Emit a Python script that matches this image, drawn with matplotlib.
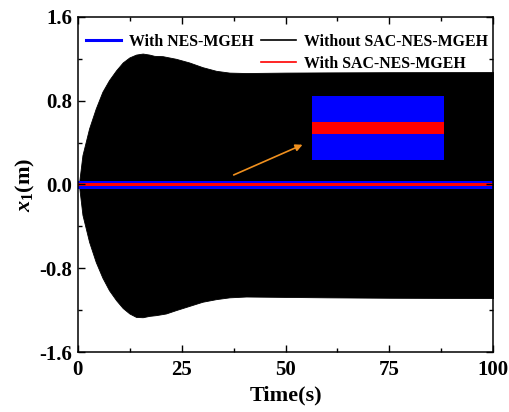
import matplotlib
matplotlib.use('Agg')
import matplotlib.pyplot as plt
from matplotlib.lines import Line2D

plt.rcParams['font.family'] = ['Liberation Serif', 'DejaVu Serif']
plt.rcParams['font.weight'] = 'bold'
plt.rcParams['mathtext.fontset'] = 'custom'
plt.rcParams['mathtext.rm'] = 'Liberation Serif:bold'
plt.rcParams['mathtext.it'] = 'Liberation Serif:italic:bold'
plt.rcParams['mathtext.bf'] = 'Liberation Serif:bold'

# envelope of the response without SAC-NES-MGEH
t_up = [0, 0.3, 1.1, 2.7, 4.3, 5.9, 7.5, 9.2, 10.8, 12.4, 14.0, 15.6, 17.2, 18.4, 20.4,
        23.6, 26.8, 30.0, 33.3, 36.5, 40.5, 50, 60, 75, 100]
upper_env = [0.0, 0.02, 0.28, 0.535, 0.725, 0.885, 0.996, 1.09, 1.165, 1.213, 1.24, 1.25,
             1.24, 1.228, 1.225, 1.20, 1.165, 1.12, 1.085, 1.068, 1.064, 1.068, 1.07, 1.072, 1.073]
t_low = [0, 0.3, 1.1, 2.7, 4.3, 5.9, 7.5, 9.2, 10.8, 12.4, 14.0, 15.6, 17.2, 18.8, 21.2,
         23.6, 26.8, 30.0, 33.3, 36.5, 40.5, 50, 60, 75, 100]
lower_env = [0.0, -0.02, -0.29, -0.548, -0.74, -0.89, -1.01, -1.105, -1.18, -1.232, -1.265, -1.268,
             -1.255, -1.248, -1.232, -1.20, -1.16, -1.12, -1.095, -1.078, -1.07, -1.074, -1.078, -1.082, -1.085]

# with NES-MGEH / with SAC-NES-MGEH (thin bands around zero)
t_small = [0, 100]
blue_upper = [0.03, 0.03]
blue_lower = [-0.045, -0.045]
red_upper = [0.012, 0.012]
red_lower = [-0.012, -0.012]

# zoomed inset values
inset_t = [0, 1]
inset_blue = [0.035, 0.035]
inset_red = [0.0068, 0.0068]

xticks = [0, 25, 50, 75, 100]
yticks = [-1.6, -0.8, 0.0, 0.8, 1.6]

fig = plt.figure(figsize=(5.09, 4.12), dpi=100)
ax = fig.add_axes([0.153, 0.1456, 0.816, 0.8134])

ax.fill_between(t_up, upper_env, 0, color='black', lw=0.6, edgecolor='black')
ax.fill_between(t_low, lower_env, 0, color='black', lw=0.6, edgecolor='black')
ax.fill_between(t_small, blue_lower, blue_upper, color='#0000ff', lw=0)
ax.fill_between(t_small, red_lower, red_upper, color='#ff0000', lw=0)

ax.set_xlim(0, 100)
ax.set_ylim(-1.6, 1.6)
ax.set_xticks(xticks)
ax.set_xticklabels([str(v) for v in xticks])
ax.set_yticks(yticks)
ax.set_yticklabels(['%.1f' % v for v in yticks])
ax.set_xticks([12.5, 37.5, 62.5, 87.5], minor=True)
ax.set_yticks([-1.2, -0.4, 0.4, 1.2], minor=True)
ax.tick_params(which='both', direction='in', top=True, right=True, labelsize=15, width=1)
ax.tick_params(which='major', length=5, pad=4)
ax.tick_params(axis='x', which='major', pad=6)
ax.tick_params(which='minor', length=3)
for lab in ax.get_xticklabels() + ax.get_yticklabels():
    lab.set_fontweight('bold')
for s in ax.spines.values():
    s.set_linewidth(1.1)

ax.set_xlabel('Time(s)', fontsize=16, fontweight='bold', labelpad=4)
ax.set_ylabel(r'$x_{1}$(m)', fontsize=16, fontweight='bold', labelpad=2)

handles = [Line2D([], [], color='#0000ff', lw=2.2),
           Line2D([], [], color='none'),
           Line2D([], [], color='black', lw=1.2),
           Line2D([], [], color='#ff0000', lw=1.2)]
labels = ['With NES-MGEH', '', 'Without SAC-NES-MGEH', 'With SAC-NES-MGEH']
ax.legend(handles, labels, ncol=2, loc='upper left', bbox_to_anchor=(0.0, 0.973),
          frameon=False, prop={'weight': 'bold', 'size': 11.4},
          handlelength=2.2, handletextpad=0.5, columnspacing=0.5,
          labelspacing=0.38, borderaxespad=0.3, borderpad=0.2)

ax.annotate('', xy=(54.7, 0.39), xytext=(36.9, 0.08),
            arrowprops=dict(arrowstyle='-|>', color='#f0901e', lw=1.2, mutation_scale=10))

axin = fig.add_axes([0.613, 0.612, 0.259, 0.155])
axin.fill_between(inset_t, [-v for v in inset_blue], inset_blue, color='#0000ff', lw=0)
axin.fill_between(inset_t, [-v for v in inset_red], inset_red, color='#ff0000', lw=0)
axin.set_xlim(0, 1)
axin.set_ylim(-0.035, 0.035)
axin.set_xticks([])
axin.set_yticks([])
for s in axin.spines.values():
    s.set_visible(False)

fig.savefig('out.png', dpi=100)
